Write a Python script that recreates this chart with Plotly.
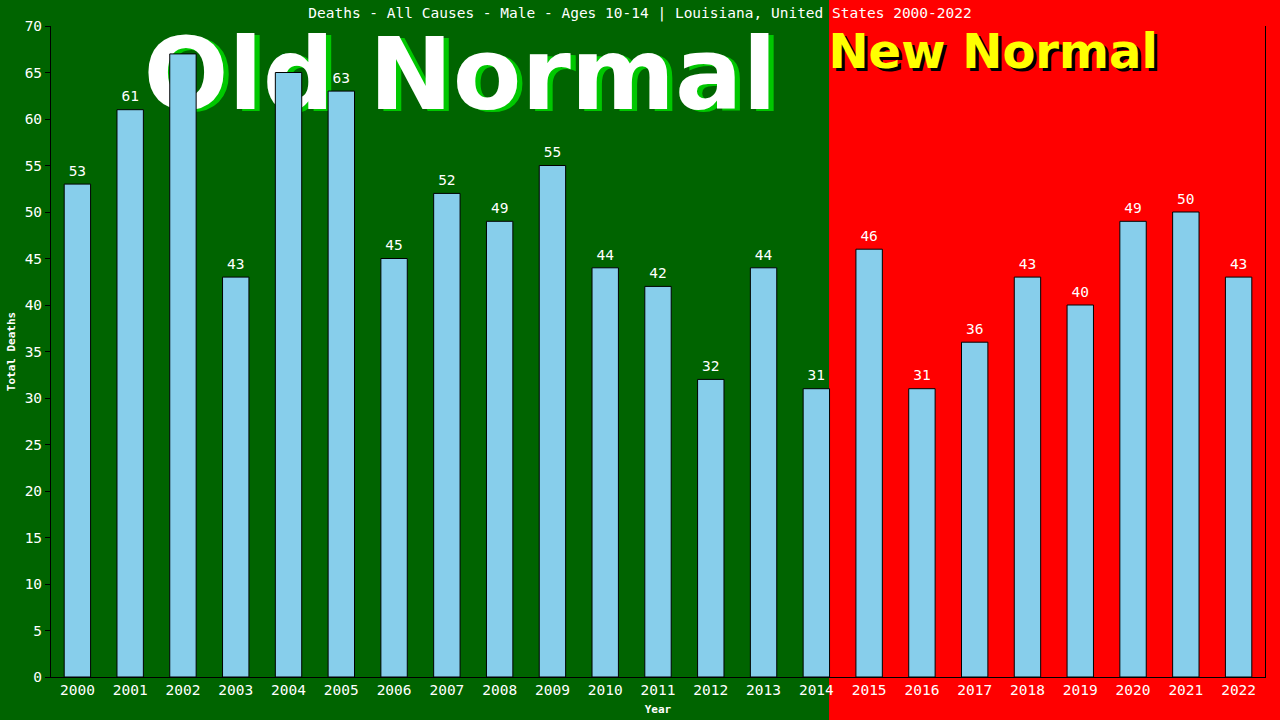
import plotly.graph_objects as go

# data
years = list(range(2000, 2023))
deaths = [53, 61, 67, 43, 65, 63, 45, 52, 49, 55, 44, 42, 32, 44, 31,
          46, 31, 36, 43, 40, 49, 50, 43]
y_ticks = list(range(0, 71, 5))

title_text = "Deaths - All Causes - Male - Ages 10-14 | Louisiana, United States 2000-2022"
old_label = "Old Normal"
new_label = "New Normal"

GREEN = "#006400"
RED = "#FF0000"
MONO = "DejaVu Sans Mono"

fig = go.Figure()

# value labels sit on the base axes so the bars (overlay axes) draw over the big text
fig.add_trace(go.Scatter(
    x=years, y=[v + 0.5 for v in deaths], mode="text", text=[str(v) for v in deaths],
    textposition="top center",
    textfont=dict(family=MONO, size=14.5, color="white"),
    hoverinfo="skip", showlegend=False,
))

# "Old Normal" with green drop shadow
fig.add_trace(go.Scatter(
    x=[2007.35], y=[63.6], mode="text", text=[old_label],
    textposition="middle center",
    textfont=dict(family="DejaVu Sans", size=100, color="#00C800", weight="bold"),
    hoverinfo="skip", showlegend=False,
))
fig.add_trace(go.Scatter(
    x=[2007.25], y=[63.8], mode="text", text=[old_label],
    textposition="middle center",
    textfont=dict(family="DejaVu Sans", size=100, color="white", weight="bold"),
    hoverinfo="skip", showlegend=False,
))

# "New Normal" with black drop shadow
fig.add_trace(go.Scatter(
    x=[2017.41], y=[66.43], mode="text", text=[new_label],
    textposition="middle center",
    textfont=dict(family="DejaVu Sans", size=48, color="black", weight="bold"),
    hoverinfo="skip", showlegend=False,
))
fig.add_trace(go.Scatter(
    x=[2017.35], y=[66.73], mode="text", text=[new_label],
    textposition="middle center",
    textfont=dict(family="DejaVu Sans", size=48, color="#FFFF00", weight="bold"),
    hoverinfo="skip", showlegend=False,
))

fig.add_trace(go.Bar(
    x=years, y=deaths, xaxis="x2", yaxis="y2",
    marker=dict(color="#87CEEB", line=dict(color="black", width=1)),
    hoverinfo="skip", showlegend=False,
))

# red "new normal" region from the right edge of the 2014 bar
fig.add_shape(type="rect", xref="paper", yref="paper",
              x0=0.6409, x1=1.2, y0=-0.2, y1=1.2,
              fillcolor=RED, line=dict(width=0), layer="below")

fig.update_layout(
    width=1280, height=720,
    margin=dict(l=51, r=15, t=26, b=43),
    paper_bgcolor=GREEN,
    plot_bgcolor="rgba(0,0,0,0)",
    bargap=0.5,
    title=dict(text=title_text, x=0.5, xref="container", xanchor="center",
               y=1 - 13 / 720, yref="container", yanchor="middle",
               font=dict(family=MONO, size=14.5, color="white")),
    xaxis=dict(range=[1999.5, 2022.5], tickvals=years, ticktext=[str(y) for y in years],
               showgrid=False, zeroline=False, showline=True, linecolor="black",
               linewidth=1, ticks="", automargin=False,
               tickfont=dict(family=MONO, size=14.5, color="white"),
               title=dict(text="Year", standoff=7,
                          font=dict(family=MONO, size=11, color="white", weight="bold"))),
    yaxis=dict(range=[0, 70], tickvals=y_ticks, showgrid=False, zeroline=False,
               showline=True, mirror=True, linecolor="black", linewidth=1,
               ticks="outside", ticklen=5, tickcolor="black", automargin=False,
               tickfont=dict(family=MONO, size=14.5, color="white"),
               title=dict(text="Total Deaths", standoff=6,
                          font=dict(family=MONO, size=11, color="white", weight="bold"))),
    xaxis2=dict(range=[1999.5, 2022.5], overlaying="x", visible=False),
    yaxis2=dict(range=[0, 70], overlaying="y", visible=False),
)

fig.write_html("out.html", config={"displayModeBar": False},
               post_script="document.body.style.margin='0';")
